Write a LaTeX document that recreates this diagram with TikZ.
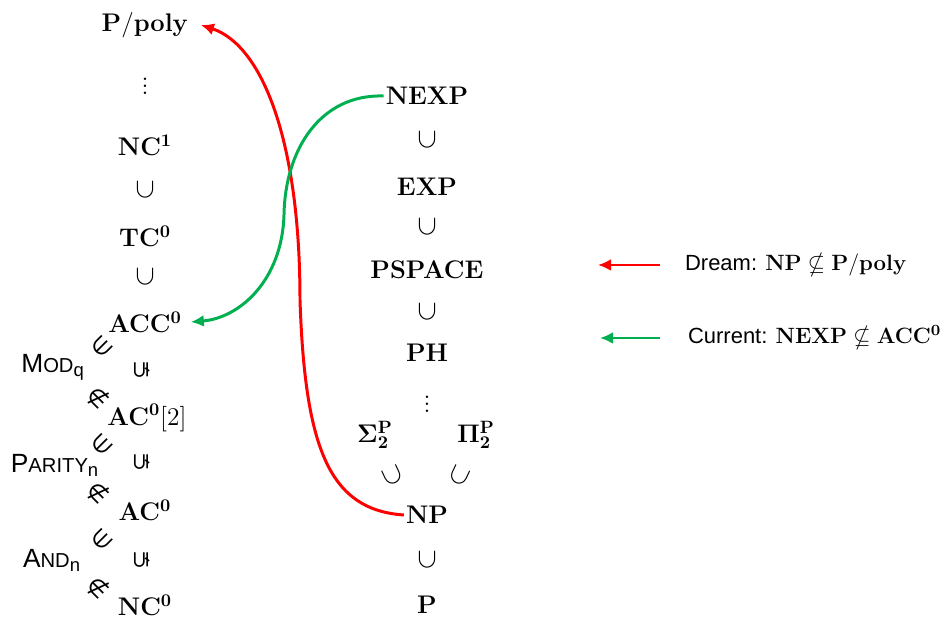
\RequirePackage{fix-cm}
\documentclass[tikz,border=0pt]{standalone}
\usepackage{amsmath,amssymb}
\usepackage[no-math]{fontspec}
\setsansfont{Liberation Sans}
\newfontfamily\symfont{DejaVu Sans}
\usetikzlibrary{arrows.meta, positioning, calc}
\definecolor{cred}{HTML}{FF0000}
\definecolor{cgreen}{HTML}{00B050}
\tikzset{
  every picture/.style={font=\fontsize{14.5}{17}\selectfont},
  cls/.style={inner sep=1pt},
  rel/.style={inner sep=0pt, rotate=#1, scale=1.1},
  rel/.default=90,
  srel/.style={inner sep=0pt, rotate=#1, font=\symfont\fontsize{13}{15}\selectfont},
  fn/.style={font=\sffamily\fontsize{15}{17}\selectfont, inner sep=1pt},
  dream/.style={-{Latex[length=2.6mm,width=2.4mm]}, draw=cred, line width=1.7pt},
  current/.style={-{Latex[length=2.6mm,width=2.4mm]}, draw=cgreen, line width=1.7pt},
  legend/.style={font=\sffamily\fontsize{12.5}{15}\selectfont, anchor=west, inner sep=1pt},
}
\newcommand{\smc}[1]{{\fontsize{11.5}{13}\selectfont #1}}
\newcommand{\lgm}[1]{{\fontsize{12.6}{15}\selectfont $#1$}}

\begin{document}
\begin{tikzpicture}
  \useasboundingbox (0,0) rectangle (18.98,-12.36);
  % circuit classes
  \node[cls] (ppoly) at (2.9,-0.5) {$\mathbf{P/poly}$};
  \node[inner sep=0pt] (ldots) at (2.9,-1.62) {$\vdots$};
  \node[cls] (nc1) at (2.9,-2.9) {$\mathbf{NC^1}$};
  \node[cls] (tc0) at (2.9,-4.72) {$\mathbf{TC^0}$};
  \node[cls] (acc) at (2.9,-6.44) {$\mathbf{ACC^0}$};
  \node[cls] (ac2) at (2.94,-8.36) {$\mathbf{AC^0}[2]$};
  \node[cls] (ac0) at (2.9,-10.2) {$\mathbf{AC^0}$};
  \node[cls] (nc0) at (2.9,-12.1) {$\mathbf{NC^0}$};
  \foreach \y/\n in {-3.8/s1, -5.54/s2} {
    \node[rel] (\n) at (2.9,\y) {$\subset$};
  }
  \foreach \y/\n in {-7.4/p1, -9.24/p2, -11.2/p3} {
    \node[srel=90] (\n) at (2.84,\y) {⊊};
  }
  % functions
  \node[fn] (mod) at (1.06,-7.34) {M\smc{OD}\textsubscript{q}};
  \node[fn] (parity) at (1.1,-9.3) {P\smc{ARITY}\textsubscript{n}};
  \node[fn] (and) at (1.04,-11.2) {A\smc{ND}\textsubscript{n}};
  \foreach \y/\n in {-6.94/e1, -8.9/e2, -10.8/e3} {
    \node[srel=45] (\n) at (2.04,\y) {∈};
  }
  \foreach \y/\n in {-7.96/ne1, -9.86/ne2, -11.76/ne3} {
    \node[srel=-45] (\n) at (1.96,\y) {∉};
  }
  % uniform classes
  \node[cls] (nexp) at (8.54,-1.92) {$\mathbf{NEXP}$};
  \node[cls] (exp) at (8.54,-3.74) {$\mathbf{EXP}$};
  \node[cls] (pspace) at (8.54,-5.4) {$\mathbf{PSPACE}$};
  \node[cls] (ph) at (8.54,-7.06) {$\mathbf{PH}$};
  \node[inner sep=0pt] (rdots) at (8.54,-7.98) {$\vdots$};
  \node[inner sep=0pt] (sigma) at (7.5,-8.7) {$\mathbf{\Sigma_2^P}$};
  \node[inner sep=0pt] (pi) at (9.52,-8.7) {$\mathbf{\Pi_2^P}$};
  \node[cls] (np) at (8.54,-10.3) {$\mathbf{NP}$};
  \node[cls] (p) at (8.54,-12.1) {$\mathbf{P}$};
  \foreach \y/\n in {-2.8/u1, -4.54/u2, -6.24/u3, -11.2/u4} {
    \node[rel] (\n) at (8.54,\y) {$\subset$};
  }
  \node[rel=115] (u5) at (7.86,-9.52) {$\subset$};
  \node[rel=65] (u6) at (9.2,-9.52) {$\subset$};
  % the two separations
  \coordinate (rmid) at (6.0,-6.0);
  \coordinate (gmid) at (5.68,-4.3);
  \draw[dream] (np.west) .. controls (6.6,-10.2) and (6.1,-9.0) .. (rmid)
    .. controls (6.0,-2.8) and (5.24,-0.9) .. ([xshift=6pt]ppoly.east);
  \draw[current] (nexp.west) .. controls (6.4,-1.88) and (5.7,-3.0) .. (gmid)
    .. controls (5.64,-5.6) and (4.8,-6.36) .. ([xshift=4pt]acc.east);
  % legend
  \node[legend] (ldream) at (13.66,-5.3) {Dream: \lgm{\mathbf{NP}\nsubseteq\mathbf{P/poly}}};
  \node[legend] (lcurrent) at (13.72,-6.76) {Current: \lgm{\mathbf{NEXP}\nsubseteq\mathbf{ACC^0}}};
  \coordinate (rd) at (13.2,-5.3);
  \coordinate (gd) at (13.2,-6.76);
  \draw[dream] (rd) -- ++(-1.24,0);
  \draw[current] (gd) -- ++(-1.2,0);
\end{tikzpicture}
\end{document}
